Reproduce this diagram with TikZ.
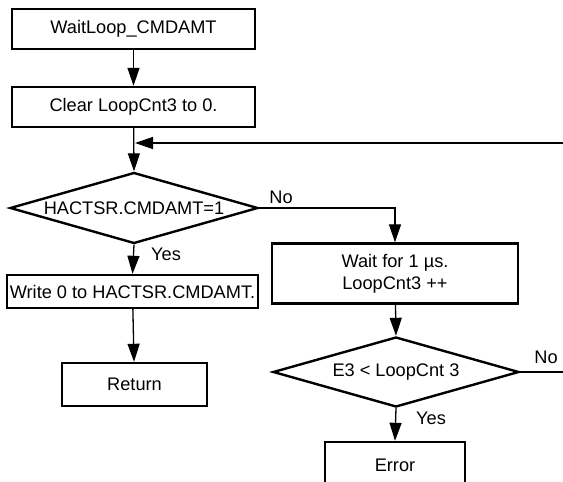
\documentclass[tikz,border=0pt]{standalone}
\usepackage{fontspec}
\setmainfont{Liberation Sans}
\usetikzlibrary{shapes.geometric,arrows.meta}
\begin{document}
\begin{tikzpicture}[x=1pt,y=-1pt,
  font=\fontsize{18.2}{22}\selectfont,
  box/.style={draw,line width=2.4pt,inner sep=0pt,align=center},
  dia/.style={draw,line width=2.4pt,shape=diamond,inner sep=0pt,aspect=3.6},
  conn/.style={line width=1.3pt},
  arr/.style={conn,-{Triangle[length=18pt,width=12pt]}},
  lbl/.style={inner sep=0pt}]
\useasboundingbox (0,0) rectangle (563,482);
\node[box,minimum width=243pt,minimum height=40pt] (b1) at (133.5,29) {WaitLoop\_CMDAMT};
\node[box,minimum width=243pt,minimum height=40pt] (b2) at (133.5,107) {Clear LoopCnt3 to 0.};
\node[dia,minimum width=248pt,minimum height=71pt] (d1) at (134,208) {HACTSR.CMDAMT=1};
\node[box,minimum width=246pt,minimum height=60pt] (b3) at (395,273.5) {Wait for 1 µs.\\LoopCnt3 ++};
\node[dia,minimum width=246pt,minimum height=70pt] (d2) at (396,372) {E3 < LoopCnt 3};
\node[box,minimum width=251pt,minimum height=33pt] (b4) at (132.5,291.5) {Write 0 to HACTSR.CMDAMT.};
\node[box,minimum width=145pt,minimum height=43pt] (ret) at (134.5,384.5) {Return};
\node[box,minimum width=140pt,minimum height=46pt] (err) at (395,465) {Error};
\coordinate (loopR) at (563,143);
\coordinate (loopJ) at (135,143);
\coordinate (noR) at (563,372);
\coordinate (b3in) at (395,208);
\draw[arr] (b1) -- (b2);
\draw[arr] (b2) -- (d1.north);
\draw[arr] (loopR) -- (loopJ);
\draw[arr] (d1.east) -- (b3in) -- (b3.north);
\draw[arr] (b3) -- (d2.north);
\draw[conn] (d2.east) -- (noR);
\draw[arr] (d2.south) -- (err.north);
\draw[arr] (d1.south) -- (b4.north);
\draw[arr] (b4) -- (ret);
\node[lbl] (no1) at (281,197) {No};
\node[lbl] (yes1) at (166,254) {Yes};
\node[lbl] (no2) at (546,357) {No};
\node[lbl] (yes2) at (431,418) {Yes};
\end{tikzpicture}
\end{document}
